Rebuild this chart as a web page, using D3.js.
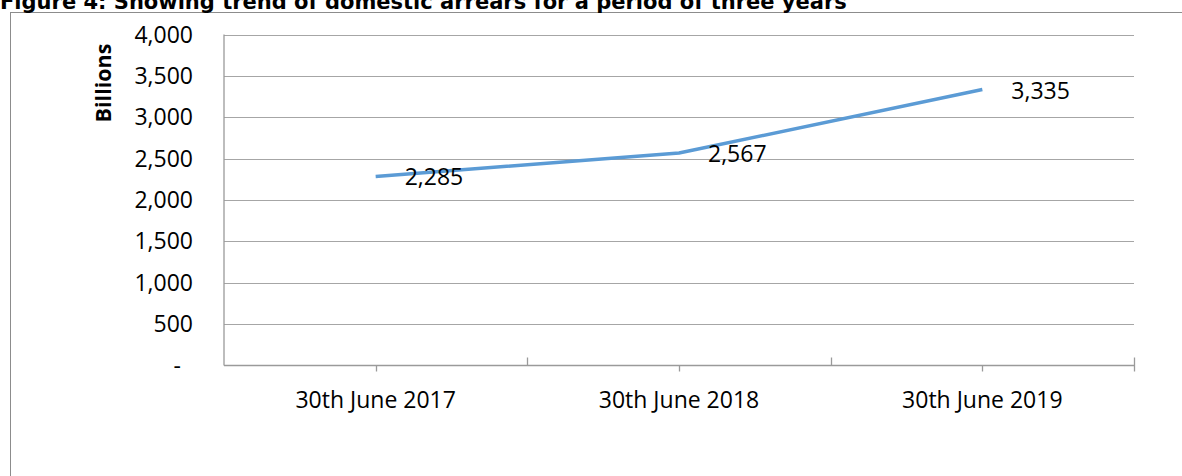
<!DOCTYPE html>
<html>
<head>
<meta charset="utf-8">
<script src="https://cdn.jsdelivr.net/npm/d3@7"></script>
<style>
  html, body { margin: 0; padding: 0; background: #fff; }
  svg { display: block; }
</style>
</head>
<body>
<svg id="chart" width="1182" height="476"></svg>
<script>
// Domestic arrears, in billions, at the end of each fiscal year
const categories = ["30th June 2017", "30th June 2018", "30th June 2019"];
const arrears = [2285, 2567, 3335];
const yTicks = [0, 500, 1000, 1500, 2000, 2500, 3000, 3500, 4000];

const W = 1182, H = 476;
const plot = { left: 224, top: 34.5, right: 1134, bottom: 365.5 };
const FONT = "'Open Sans', 'Liberation Sans', sans-serif";

const svg = d3.select("#chart");

// Chart frame (runs past the visible page on the right and bottom)
svg.append("rect")
  .attr("x", 10.5).attr("y", 12.5)
  .attr("width", W + 20).attr("height", H + 20)
  .attr("fill", "#fff").attr("stroke", "#8c8c8c").attr("stroke-width", 1);

// Caption
svg.append("text")
  .attr("x", 0).attr("y", 9)
  .attr("font-family", "'DejaVu Sans', sans-serif")
  .attr("font-weight", "bold")
  .attr("font-size", 21)
  .attr("fill", "#000")
  .text("Figure 4: Showing trend of domestic arrears for a period of three years");

const x = d3.scaleBand().domain(categories).range([plot.left, plot.right]).padding(0);
const y = d3.scaleLinear().domain([0, 4000]).range([plot.bottom, plot.top]);
const cx = d => x(d) + x.bandwidth() / 2;

// Horizontal gridlines
svg.append("g")
  .selectAll("line")
  .data(yTicks.filter(t => t > 0))
  .join("line")
  .attr("x1", plot.left).attr("x2", plot.right)
  .attr("y1", d => Math.round(y(d)) + 0.5).attr("y2", d => Math.round(y(d)) + 0.5)
  .attr("stroke", "#a6a6a6").attr("stroke-width", 1.2);

// Y axis labels
const fmt = d3.format(",");
svg.append("g")
  .selectAll("text")
  .data(yTicks)
  .join("text")
  .attr("x", d => d === 0 ? 181 : 193)
  .attr("y", d => y(d))
  .attr("dy", "0.35em")
  .attr("text-anchor", "end")
  .attr("font-family", FONT).attr("font-size", 23)
  .attr("fill", "#000")
  .text(d => d === 0 ? "-" : fmt(d));

// Y axis title
svg.append("text")
  .attr("transform", "translate(111,83) rotate(-90)")
  .attr("text-anchor", "middle")
  .attr("font-family", FONT).attr("font-weight", "bold").attr("font-size", 21.5)
  .attr("fill", "#000")
  .text("Billions");

// Axis lines
const axisG = svg.append("g").attr("stroke", "#9a9a9a").attr("stroke-width", 1.3);
axisG.append("line")
  .attr("x1", plot.left).attr("x2", plot.left)
  .attr("y1", plot.top).attr("y2", plot.bottom);
axisG.append("line")
  .attr("x1", plot.left).attr("x2", plot.right)
  .attr("y1", plot.bottom).attr("y2", plot.bottom);

// Category-centre ticks hang below the axis
axisG.selectAll("line.c")
  .data(categories)
  .join("line").attr("class", "c")
  .attr("x1", d => Math.round(cx(d)) + 0.5).attr("x2", d => Math.round(cx(d)) + 0.5)
  .attr("y1", plot.bottom).attr("y2", plot.bottom + 6);

// Category-boundary ticks rise above the axis
const bounds = categories.slice(1).map(d => x(d)).concat([plot.right]);
axisG.selectAll("line.b")
  .data(bounds)
  .join("line").attr("class", "b")
  .attr("x1", d => Math.round(d) + 0.5).attr("x2", d => Math.round(d) + 0.5)
  .attr("y1", plot.bottom - 8).attr("y2", (d, i) => i === bounds.length - 1 ? plot.bottom + 6 : plot.bottom);

// X axis labels
svg.append("g")
  .selectAll("text")
  .data(categories)
  .join("text")
  .attr("x", d => cx(d))
  .attr("y", 408)
  .attr("text-anchor", "middle")
  .attr("font-family", FONT).attr("font-size", 23)
  .attr("fill", "#000")
  .text(d => d);

// Trend line
const pts = categories.map((c, i) => ({ c, v: arrears[i] }));
svg.append("path")
  .datum(pts)
  .attr("d", d3.line().x(d => cx(d.c)).y(d => y(d.v)))
  .attr("fill", "none")
  .attr("stroke", "#5b9bd5")
  .attr("stroke-width", 3.5)
  .attr("stroke-linejoin", "round");

// Value labels to the right of each point
svg.append("g")
  .selectAll("text")
  .data(pts)
  .join("text")
  .attr("x", d => cx(d.c) + 29)
  .attr("y", d => y(d.v) + 1)
  .attr("dy", "0.35em")
  .attr("font-family", FONT).attr("font-size", 23)
  .attr("fill", "#000")
  .text(d => fmt(d.v));
</script>
</body>
</html>
